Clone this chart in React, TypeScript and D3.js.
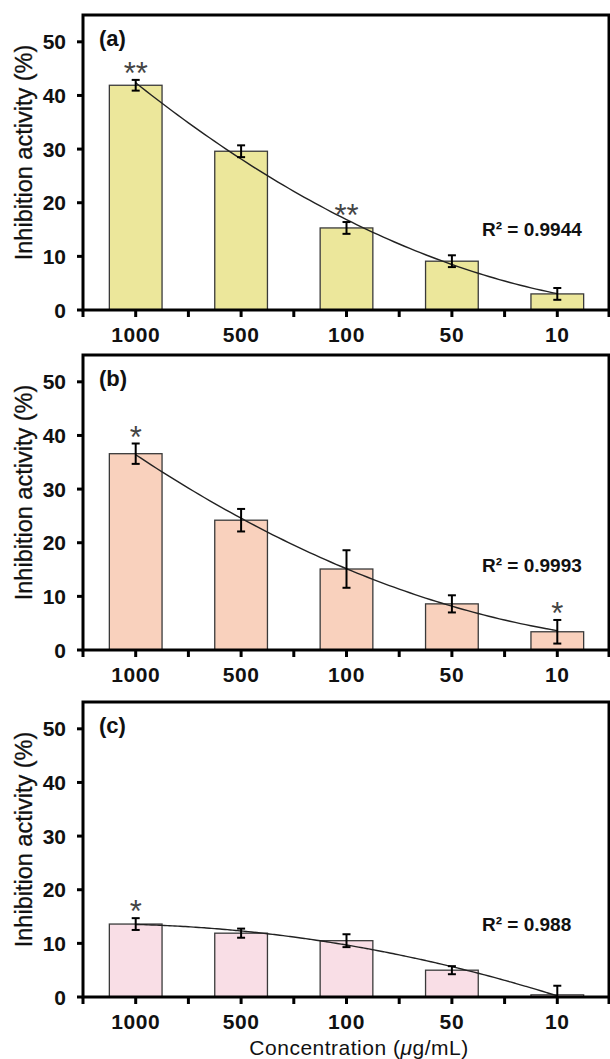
import { useEffect, useRef } from 'react';
import * as d3 from 'd3';

// concentrations (µg/mL), shared by all three panels
const categories = ['1000', '500', '100', '50', '10'];

// panel (a)
const valuesA = [41.9, 29.6, 15.3, 9.1, 3.0];
const errorsA = [1.0, 1.1, 1.1, 1.1, 1.1];
const starsA = ['**', '', '**', '', ''];

// panel (b)
const valuesB = [36.6, 24.2, 15.1, 8.6, 3.4];
const errorsB = [1.9, 2.1, 3.5, 1.6, 2.2];
const starsB = ['*', '', '', '', '*'];

// panel (c)
const valuesC = [13.6, 11.9, 10.5, 5.0, 0.4];
const errorsC = [1.1, 0.85, 1.2, 0.75, 1.7];
const starsC = ['*', '', '', '', ''];

const panelLabels = ['(a)', '(b)', '(c)'];
const r2Labels = ['R² = 0.9944', 'R² = 0.9993', 'R² = 0.988'];
const yTicks = [0, 10, 20, 30, 40, 50];

const WIDTH = 610;
const HEIGHT = 1059;
const FONT = '"Liberation Sans", Arial, Helvetica, sans-serif';

// least squares fit of a 2nd order polynomial over x = 1..n (like Excel's trendline)
function quadFit(ys: number[]) {
  const xs = ys.map((_, i) => i + 1);
  const s = (k: number) => d3.sum(xs, (x) => x ** k);
  const t = (k: number) => d3.sum(xs, (x, i) => x ** k * ys[i]);
  const A = [
    [s(4), s(3), s(2)],
    [s(3), s(2), s(1)],
    [s(2), s(1), xs.length],
  ];
  const B = [t(2), t(1), t(0)];
  const det = (m: number[][]) =>
    m[0][0] * (m[1][1] * m[2][2] - m[1][2] * m[2][1]) -
    m[0][1] * (m[1][0] * m[2][2] - m[1][2] * m[2][0]) +
    m[0][2] * (m[1][0] * m[2][1] - m[1][1] * m[2][0]);
  const D = det(A);
  const coef = [0, 1, 2].map((c) => det(A.map((row, r) => row.map((v, j) => (j === c ? B[r] : v)))) / D);
  return (x: number) => coef[0] * x * x + coef[1] * x + coef[2];
}

function App() {
  const ref = useRef<SVGSVGElement>(null);

  useEffect(() => {
    const svg = d3.select(ref.current);
    svg.selectAll('*').remove();

    const panels = [
      { values: valuesA, errors: errorsA, stars: starsA, color: '#ece79b', top: 15, r2y: 15.1 },
      { values: valuesB, errors: errorsB, stars: starsB, color: '#f9d1bd', top: 355, r2y: 15.8 },
      { values: valuesC, errors: errorsC, stars: starsC, color: '#f9dee6', top: 702, r2y: 13.6 },
    ];

    const left = 83;
    const right = 609;
    const plotH = 295;

    panels.forEach((p, idx) => {
      const g = svg.append('g');
      const x = d3.scaleBand().domain(categories).range([left, right + 1]);
      const bw = x.bandwidth();
      const y = d3.scaleLinear().domain([0, 55]).range([p.top + plotH, p.top]);
      const y0 = y(0);

      // bars
      g.selectAll('rect.bar')
        .data(p.values)
        .join('rect')
        .attr('class', 'bar')
        .attr('x', (_, i) => x(categories[i])! + bw * 0.25)
        .attr('width', bw * 0.5)
        .attr('y', (d) => y(d))
        .attr('height', (d) => y0 - y(d))
        .attr('fill', p.color)
        .attr('stroke', '#3a3a3a')
        .attr('stroke-width', 1.3);

      // trendline
      const fit = quadFit(p.values);
      const ts = d3.range(1, 5.001, 0.05);
      const line = d3
        .line<number>()
        .x((t) => x(categories[0])! + bw / 2 + (t - 1) * bw)
        .y((t) => y(fit(t)))
        .curve(d3.curveMonotoneX);
      g.append('path')
        .attr('d', line(ts))
        .attr('fill', 'none')
        .attr('stroke', '#222')
        .attr('stroke-width', 1.4);

      // error bars
      const eb = g
        .selectAll('g.err')
        .data(p.values)
        .join('g')
        .attr('class', 'err');
      eb.append('line')
        .attr('x1', (_, i) => x(categories[i])! + bw / 2)
        .attr('x2', (_, i) => x(categories[i])! + bw / 2)
        .attr('y1', (d, i) => y(d + p.errors[i]))
        .attr('y2', (d, i) => y(Math.max(0, d - p.errors[i])))
        .attr('stroke', '#000')
        .attr('stroke-width', 2);
      [1, -1].forEach((sgn) => {
        eb.append('line')
          .attr('x1', (_, i) => x(categories[i])! + bw / 2 - 4)
          .attr('x2', (_, i) => x(categories[i])! + bw / 2 + 4)
          .attr('y1', (d, i) => y(Math.max(0, d + sgn * p.errors[i])))
          .attr('y2', (d, i) => y(Math.max(0, d + sgn * p.errors[i])))
          .attr('stroke', '#000')
          .attr('stroke-width', 2);
      });

      // significance marks
      g.selectAll('text.star')
        .data(p.stars)
        .join('text')
        .attr('class', 'star')
        .attr('x', (_, i) => x(categories[i])! + bw / 2)
        .attr('y', (_, i) => y(p.values[i] + p.errors[i]) + 4)
        .attr('text-anchor', 'middle')
        .attr('font-family', FONT)
        .attr('font-size', 31)
        .attr('fill', '#444')
        .text((d) => d);

      // frame
      g.append('rect')
        .attr('x', left)
        .attr('y', p.top)
        .attr('width', right - left)
        .attr('height', plotH)
        .attr('fill', 'none')
        .attr('stroke', '#000')
        .attr('stroke-width', 3);

      // y axis ticks + labels
      yTicks.forEach((t) => {
        g.append('line')
          .attr('x1', left - 6)
          .attr('x2', left)
          .attr('y1', y(t))
          .attr('y2', y(t))
          .attr('stroke', '#000')
          .attr('stroke-width', 3);
        g.append('text')
          .attr('x', 66)
          .attr('y', y(t) + 7.5)
          .attr('text-anchor', 'end')
          .attr('font-family', FONT)
          .attr('font-weight', 'bold')
          .attr('font-size', 21)
          .attr('fill', '#111')
          .text(t);
      });

      // x axis ticks (centres and boundaries) + labels
      const xt = categories.flatMap((c) => [x(c)!, x(c)! + bw / 2]).concat([right]);
      xt.forEach((v) => {
        g.append('line')
          .attr('x1', v)
          .attr('x2', v)
          .attr('y1', y0)
          .attr('y2', y0 + 7)
          .attr('stroke', '#000')
          .attr('stroke-width', 3);
      });
      categories.forEach((c) => {
        g.append('text')
          .attr('x', x(c)! + bw / 2)
          .attr('y', y0 + 32)
          .attr('text-anchor', 'middle')
          .attr('font-family', FONT)
          .attr('font-weight', 'bold')
          .attr('font-size', 21)
          .attr('letter-spacing', 0.6)
          .attr('fill', '#111')
          .text(c);
      });

      // panel letter
      g.append('text')
        .attr('x', left + 16)
        .attr('y', p.top + 31)
        .attr('font-family', FONT)
        .attr('font-weight', 'bold')
        .attr('font-size', 22)
        .attr('fill', '#111')
        .text(panelLabels[idx]);

      // R² annotation
      g.append('text')
        .attr('x', 482)
        .attr('y', y(p.r2y) + 7)
        .attr('font-family', FONT)
        .attr('font-weight', 'bold')
        .attr('font-size', 19)
        .attr('fill', '#111')
        .text(r2Labels[idx]);

      // y axis title
      g.append('text')
        .attr('transform', `translate(32, ${p.top + plotH / 2 - 10}) rotate(-90)`)
        .attr('text-anchor', 'middle')
        .attr('font-family', FONT)
        .attr('font-size', 23.5)
        .attr('fill', '#111')
        .attr('stroke', '#111')
        .attr('stroke-width', 0.3)
        .text('Inhibition activity (%)');
    });

    // x axis title
    const xt = svg
      .append('text')
      .attr('x', 359)
      .attr('y', 1055)
      .attr('text-anchor', 'middle')
      .attr('font-family', FONT)
      .attr('font-size', 21)
      .attr('letter-spacing', 0.5)
      .attr('fill', '#111');
    xt.append('tspan').text('Concentration (');
    xt.append('tspan').attr('font-style', 'italic').text('μ');
    xt.append('tspan').text('g/mL)');
  }, []);

  return (
    <div style={{ position: 'absolute', left: 0, top: 0, width: WIDTH, height: HEIGHT, background: '#fff' }}>
      <svg ref={ref} width={WIDTH} height={HEIGHT} style={{ display: 'block' }} />
    </div>
  );
}

export default App;
